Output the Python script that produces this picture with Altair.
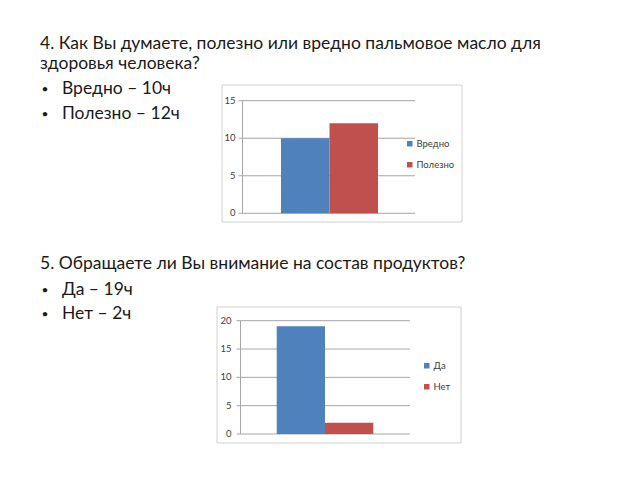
import altair as alt
import pandas as pd

# ---- data ----
q1_cats = ["Вредно", "Полезно"]
q1_vals = [10, 12]
q1_ticks = [0, 5, 10, 15]

q2_cats = ["Да", "Нет"]
q2_vals = [19, 2]
q2_ticks = [0, 5, 10, 15, 20]

q1_title = ["4. Как Вы думаете, полезно или вредно пальмовое масло для", "здоровья человека?"]
q1_bullets = ["Вредно – 10ч", "Полезно – 12ч"]
q2_title = ["5. Обращаете ли Вы внимание на состав продуктов?"]
q2_bullets = ["Да – 19ч", "Нет – 2ч"]

BLUE = "#4F81BD"
RED = "#C0504D"
GRID = "#A6A6A6"
LABEL = "#404040"
FONT = "Lato"
TSIZE = 17.5


def text_layer(txt, x, y, size=TSIZE, color="#1a1a1a"):
    return alt.Chart(pd.DataFrame({"s": [txt]})).mark_text(
        align="left", baseline="alphabetic", font=FONT, fontSize=size, color=color
    ).encode(x=alt.value(x), y=alt.value(y), text="s:N")


def mini_chart(cats, vals, ticks, box, plot_x, yrange, xrange, label_x, legend_xy):
    df = pd.DataFrame({"cat": cats, "v": vals})
    tdf = pd.DataFrame({"t": ticks})
    ysc = alt.Scale(domain=[min(ticks), max(ticks)], range=yrange, nice=False, zero=True)
    frame = alt.Chart(pd.DataFrame({"k": [0]})).mark_rect(
        fill="white", stroke="#D0D0D0", strokeWidth=1
    ).encode(
        x=alt.value(box[0]), x2=alt.value(box[1]), y=alt.value(box[2]), y2=alt.value(box[3])
    )
    grid = alt.Chart(tdf).mark_rule(color=GRID, strokeWidth=1).encode(
        y=alt.Y("t:Q", scale=ysc, axis=None),
        x=alt.value(plot_x[0]), x2=alt.value(plot_x[1]),
    )
    ticks_m = alt.Chart(tdf).mark_rule(color=GRID, strokeWidth=1).encode(
        y=alt.Y("t:Q", scale=ysc, axis=None),
        x=alt.value(plot_x[0] - 4), x2=alt.value(plot_x[0]),
    )
    yaxis = alt.Chart(tdf).mark_rule(color=GRID, strokeWidth=1).encode(
        y=alt.Y("min(t):Q", scale=ysc, axis=None),
        y2=alt.Y2("max(t):Q"),
        x=alt.value(plot_x[0]),
    )
    labels = alt.Chart(tdf).mark_text(
        align="right", baseline="middle", font=FONT, fontSize=9.5, color=LABEL
    ).encode(y=alt.Y("t:Q", scale=ysc, axis=None), x=alt.value(label_x), text="t:Q")
    bars = alt.Chart(df).mark_bar().encode(
        x=alt.X("cat:N", scale=alt.Scale(domain=cats, range=xrange, paddingInner=0, paddingOuter=0), axis=None),
        y=alt.Y("v:Q", scale=ysc, axis=None),
        color=alt.Color(
            "cat:N",
            scale=alt.Scale(domain=cats, range=[BLUE, RED]),
            legend=alt.Legend(
                title=None, orient="none", legendX=legend_xy[0], legendY=legend_xy[1],
                symbolType="square", symbolSize=30, symbolStrokeWidth=0,
                labelFont=FONT, labelFontSize=9.5, labelColor=LABEL, labelOffset=2,
                rowPadding=10, padding=0,
            ),
        ),
    )
    return [frame, grid, ticks_m, yaxis, bars, labels]


c1 = mini_chart(q1_cats, q1_vals, q1_ticks, (222, 462, 85, 222), (242.5, 415),
                [213.3, 100.7], [281, 378], 235.5, (405, 139))
c2 = mini_chart(q2_cats, q2_vals, q2_ticks, (217, 461, 307, 443), (240.5, 410),
                [434, 320.7], [276.7, 373.3], 231.5, (422, 361))

texts = [
    text_layer(q1_title[0], 40, 48.5),
    text_layer(q1_title[1], 40, 68.5),
    text_layer("•", 41.5, 92.5, size=12),
    text_layer(q1_bullets[0], 62, 93.5),
    text_layer("•", 41.5, 117.5, size=12),
    text_layer(q1_bullets[1], 62, 118.5),
    text_layer(q2_title[0], 40, 268.5),
    text_layer("•", 41.5, 294, size=12),
    text_layer(q2_bullets[0], 62, 295),
    text_layer("•", 41.5, 317.5, size=12),
    text_layer(q2_bullets[1], 62, 318.5),
]

chart = alt.layer(*c1, *c2, *texts).resolve_scale(
    x="independent", y="independent", color="independent"
).properties(
    width=640, height=480, autosize="none", padding=0, background="white"
).configure_view(stroke=None)

chart.save("out.html", embed_options={"renderer": "svg", "actions": False})
